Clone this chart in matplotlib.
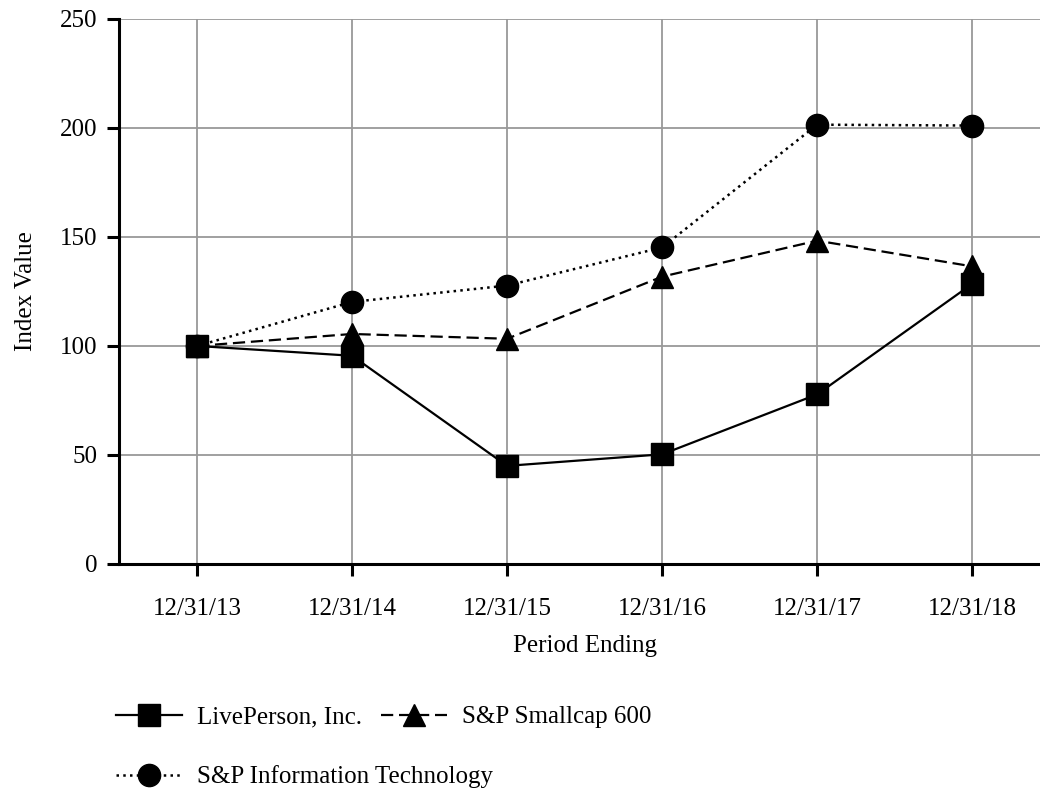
import matplotlib
matplotlib.use("Agg")
import matplotlib.pyplot as plt

plt.rcParams["font.family"] = ["Liberation Serif", "DejaVu Serif"]
plt.rcParams["font.size"] = 18

periods = ["12/31/13", "12/31/14", "12/31/15", "12/31/16", "12/31/17", "12/31/18"]
liveperson = [100, 95.5, 45, 50.3, 77.8, 128.5]
smallcap = [100, 105.5, 103.3, 131.8, 148.3, 136.5]
info_tech = [100, 120.2, 127.7, 145.2, 201.5, 201.1]
y_ticks = [0, 50, 100, 150, 200, 250]

fig = plt.figure(figsize=(10.4, 7.96), dpi=100)
ax = fig.add_axes([0.1149, 0.2915, 0.8945, 0.6847])

x = list(range(len(periods)))

l1, = ax.plot(x, liveperson, color="black", lw=1.6, ls="-",
              marker="s", markersize=16, label="LivePerson, Inc.", zorder=5)
l2, = ax.plot(x, smallcap, color="black", lw=1.6, ls=(0, (5.5, 2.6)),
              marker="^", markersize=16, label="S&P Smallcap 600", zorder=4)
l3, = ax.plot(x, info_tech, color="black", lw=1.8, ls=(0, (1, 1.7)),
              marker="o", markersize=16, label="S&P Information Technology", zorder=3)

ax.set_xlim(-0.5, 5.5)
ax.set_ylim(0, 250)
ax.set_xticks(x)
ax.set_xticklabels(periods)
ax.set_yticks(y_ticks)

ax.grid(True, color="#999999", lw=1.3)
ax.set_axisbelow(True)
ax.spines["top"].set_visible(False)
ax.spines["right"].set_visible(False)
for s in ["left", "bottom"]:
    ax.spines[s].set_linewidth(2.2)
ax.tick_params(direction="out", length=8.6, width=2.2, pad=7)
ax.tick_params(axis="x", pad=16)

ax.set_xlabel("Period Ending", labelpad=11)
ax.set_ylabel("Index Value", labelpad=17)

# legend entries laid out like the original (two on first row, one below)
positions = [(0.1115, 0.099), (0.366, 0.099), (0.1115, 0.024)]
for line, pos in zip([l1, l2, l3], positions):
    fig.legend(handles=[line], loc="center left", bbox_to_anchor=pos,
               frameon=False, borderpad=0, borderaxespad=0,
               handlelength=2.64, handletextpad=0.6)

fig.savefig("out.png", dpi=100)
